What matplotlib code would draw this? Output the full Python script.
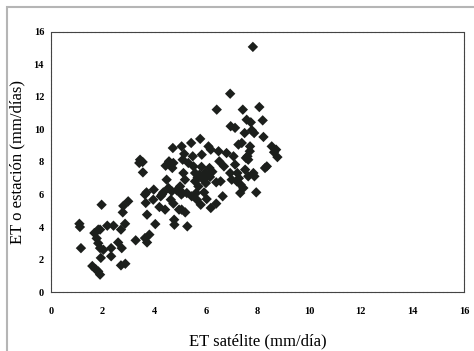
import numpy as np
import matplotlib
matplotlib.use("Agg")
import matplotlib.pyplot as plt
from matplotlib.patches import Rectangle

# ET from satellite vs ET at the station (mm/day)
et_satelite = [
    1.12, 1.10, 1.16, 1.96, 1.68, 1.83, 1.90, 1.77, 1.83, 1.90, 2.03,
    1.60, 1.73, 1.83, 1.90, 1.93, 2.18, 2.42, 2.33, 2.33, 2.60, 2.74,
    2.71, 2.87, 2.78, 2.80, 2.99, 2.71, 2.88, 3.28, 3.45, 3.55, 3.42,
    3.56, 3.64, 3.70, 3.67, 3.72, 3.64, 3.72, 3.81, 3.98, 3.96, 4.04,
    4.25, 4.20, 4.35, 4.42, 4.44, 4.48, 4.57, 4.68, 4.72, 4.74, 4.70,
    4.64, 4.74, 4.77, 4.78, 4.87, 4.96, 5.00, 5.06, 5.10, 5.16, 5.13,
    5.19, 5.10, 5.06, 5.20, 5.26, 5.28, 5.43, 5.49, 5.52, 5.58, 5.58,
    5.62, 5.65, 5.71, 5.75, 5.78, 5.83, 5.80, 5.90, 5.93, 5.84, 5.97,
    6.00, 6.03, 6.10, 6.14, 6.16, 6.19, 6.19, 6.42, 6.40, 6.40, 6.49,
    6.52, 6.57, 6.65, 6.70, 6.80, 6.94, 6.96, 7.13, 6.94, 7.00, 7.07,
    7.13, 7.20, 7.22, 7.26, 7.33, 7.35, 7.39, 7.43, 7.50, 7.52, 7.58,
    7.61, 7.64, 7.71, 7.74, 7.78, 7.82, 7.84, 7.87, 7.88, 7.95, 8.07,
    8.20, 8.23, 8.29, 8.36, 8.55, 8.64, 8.72, 8.77, 7.64, 7.55, 7.70,
    5.32, 5.45, 4.30, 4.55, 5.68, 6.25, 7.28, 7.45, 5.05,
]
et_estacion = [
    4.00, 4.20, 2.70, 5.37, 3.63, 3.84, 3.84, 3.30, 3.00, 2.70, 2.60,
    1.60, 1.40, 1.27, 1.07, 2.10, 4.08, 4.08, 2.70, 2.20, 3.05, 2.70,
    3.84, 4.20, 4.90, 5.30, 5.58, 1.64, 1.74, 3.18, 8.14, 8.00, 7.94,
    7.36, 6.00, 6.13, 5.48, 4.76, 3.32, 3.05, 3.53, 6.30, 5.68, 4.18,
    5.89, 5.23, 6.13, 5.07, 7.77, 6.91, 8.04, 6.20, 8.86, 7.94, 7.63,
    5.68, 5.44, 4.45, 4.14, 6.26, 5.07, 6.50, 8.96, 8.14, 8.50, 7.32,
    6.91, 6.09, 5.07, 4.90, 6.09, 4.04, 9.17, 8.35, 7.73, 7.32, 6.81,
    6.09, 5.68, 6.50, 7.22, 9.42, 7.70, 5.37, 6.91, 6.13, 8.45, 7.32,
    6.70, 5.72, 8.96, 7.63, 7.08, 8.76, 5.17, 11.22, 6.75, 5.44, 8.66,
    8.04, 6.81, 5.89, 7.73, 8.55, 12.20, 10.20, 10.10, 7.32, 6.91, 8.35,
    7.84, 6.81, 7.32, 9.07, 6.09, 6.60, 9.17, 11.22, 9.78, 7.53, 10.60,
    8.35, 7.12, 8.96, 10.44, 9.95, 15.08, 7.32, 9.78, 7.12, 6.13, 11.38,
    10.56, 9.54, 7.63, 7.73, 8.96, 8.60, 8.76, 8.30, 8.14, 8.25, 8.66,
    7.94, 5.89, 6.00, 6.40, 7.05, 7.40, 7.00, 6.40, 6.00,
]
ticks = [0, 2, 4, 6, 8, 10, 12, 14, 16]

plt.rcParams['font.family'] = ['Liberation Serif', 'DejaVu Serif']

fig = plt.figure(figsize=(4.74, 3.51), dpi=100)

# grey frame of the scanned page
fig.patches.append(Rectangle((7 / 474, -0.01), 1.0, 1 - 7 / 351 + 0.01,
                             transform=fig.transFigure, fill=False,
                             edgecolor='#b5b5b5', linewidth=1.5))

ax = fig.add_axes([0.1076, 0.168, 0.8714, 0.741])
ax.scatter(et_satelite, et_estacion, marker='D', s=28, color='#1c1f1c',
           edgecolors='none')

ax.set_xlim(0, 16)
ax.set_ylim(0, 16)
ax.set_xticks(ticks)
ax.set_yticks(ticks)
ax.tick_params(axis='x', length=0, pad=11, labelsize=7.5)
ax.tick_params(axis='y', length=0, pad=5, labelsize=7.5)
for lbl in ax.get_xticklabels() + ax.get_yticklabels():
    lbl.set_fontweight('bold')

for sp in ax.spines.values():
    sp.set_linewidth(0.8)
    sp.set_color('#444444')
    sp.set_linestyle((0, (3, 0.6)))

ax.set_xlabel('ET satélite (mm/día)', fontsize=12, labelpad=12)
ax.set_ylabel('ET o estación (mm/días)', fontsize=12, labelpad=6)

fig.savefig('out.png', dpi=100)
